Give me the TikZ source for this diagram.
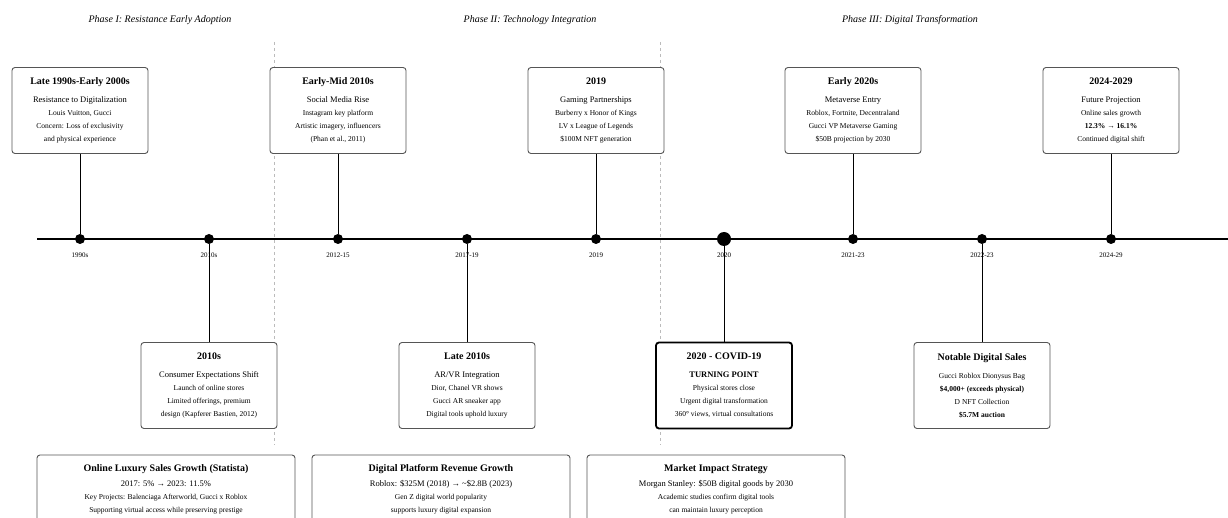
\documentclass[tikz,border=0pt]{standalone}
\usepackage{fontspec}
\setmainfont{Liberation Serif}
\definecolor{boxgray}{HTML}{555555}
\definecolor{divgray}{HTML}{BBBBBB}
\newcommand{\evtitle}[1]{{\fontsize{10}{12}\selectfont\bfseries #1}}
\newcommand{\evsub}[1]{{\fontsize{8.5}{13}\selectfont #1}}
\begin{document}
\begin{tikzpicture}[x=1pt, y=-1pt,
  evbox/.style={draw=boxgray, line width=0.9pt, rounded corners=3pt, fill=white,
                align=center, minimum width=136pt, minimum height=86pt,
                inner sep=2pt, font=\fontsize{7.5}{13}\selectfont},
  keybox/.style={evbox, draw=black, line width=1.8pt},
  sumbox/.style={evbox, minimum width=258pt, minimum height=68pt},
  dot/.style={circle, fill=black, inner sep=0pt, minimum size=10pt},
  bigdot/.style={dot, minimum size=14pt},
  yearlabel/.style={font=\fontsize{7}{8}\selectfont},
  phase/.style={font=\fontsize{10}{12}\selectfont\itshape},
  stem/.style={line width=0.8pt},
  divider/.style={draw=divgray, dashed, line width=0.8pt}]
\useasboundingbox (0,0) rectangle (1228,518);

% phase headings
\node[phase] (p1) at (160,20) {Phase I: Resistance Early Adoption};
\node[phase] (p2) at (530,20) {Phase II: Technology Integration};
\node[phase] (p3) at (910,20) {Phase III: Digital Transformation};

% phase dividers
\coordinate (v1a) at (274,42);
\coordinate (v1b) at (274,445);
\coordinate (v2a) at (660,42);
\coordinate (v2b) at (660,445);
\draw[divider] (v1a) -- (v1b);
\draw[divider] (v2a) -- (v2b);

% main axis
\coordinate (axisL) at (37,239);
\coordinate (axisR) at (1228,239);
\draw[line width=2pt] (axisL) -- (axisR);

\node[dot] (d1) at (80,239) {};
\node[dot] (d2) at (209,239) {};
\node[dot] (d3) at (338,239) {};
\node[dot] (d4) at (467,239) {};
\node[dot] (d5) at (596,239) {};
\node[bigdot] (d6) at (724,239) {};
\node[dot] (d7) at (853,239) {};
\node[dot] (d8) at (982,239) {};
\node[dot] (d9) at (1111,239) {};

\node[yearlabel] (y1) at (80,255) {1990s};
\node[yearlabel] (y2) at (209,255) {2010s};
\node[yearlabel] (y3) at (338,255) {2012-15};
\node[yearlabel] (y4) at (467,255) {2017-19};
\node[yearlabel] (y5) at (596,255) {2019};
\node[yearlabel] (y6) at (724,255) {2020};
\node[yearlabel] (y7) at (853,255) {2021-23};
\node[yearlabel] (y8) at (982,255) {2022-23};
\node[yearlabel] (y9) at (1111,255) {2024-29};

% events above the axis
\node[evbox] (t1) at (80,110.5) {\evtitle{Late 1990s-Early 2000s}\\[5pt]
  \evsub{Resistance to Digitalization}\\ Louis Vuitton, Gucci\\
  Concern: Loss of exclusivity\\ and physical experience};
\node[evbox] (t2) at (338,110.5) {\evtitle{Early-Mid 2010s}\\[5pt]
  \evsub{Social Media Rise}\\ Instagram key platform\\
  Artistic imagery, influencers\\ (Phan et al., 2011)};
\node[evbox] (t3) at (596,110.5) {\evtitle{2019}\\[5pt]
  \evsub{Gaming Partnerships}\\ Burberry x Honor of Kings\\
  LV x League of Legends\\ \$100M NFT generation};
\node[evbox] (t4) at (853,110.5) {\evtitle{Early 2020s}\\[5pt]
  \evsub{Metaverse Entry}\\ Roblox, Fortnite, Decentraland\\
  Gucci VP Metaverse Gaming\\ \$50B projection by 2030};
\node[evbox] (t5) at (1111,110.5) {\evtitle{2024-2029}\\[5pt]
  \evsub{Future Projection}\\ Online sales growth\\
  \textbf{12.3\% → 16.1\%}\\ Continued digital shift};

% events below the axis
\node[evbox] (b1) at (209,385.5) {\evtitle{2010s}\\[5pt]
  \evsub{Consumer Expectations Shift}\\ Launch of online stores\\
  Limited offerings, premium\\ design (Kapferer Bastien, 2012)};
\node[evbox] (b2) at (467,385.5) {\evtitle{Late 2010s}\\[5pt]
  \evsub{AR/VR Integration}\\ Dior, Chanel VR shows\\
  Gucci AR sneaker app\\ Digital tools uphold luxury};
\node[keybox] (b3) at (724,385.5) {\evtitle{2020 - COVID-19}\\[5pt]
  \evsub{\textbf{TURNING POINT}}\\ Physical stores close\\
  Urgent digital transformation\\ 360° views, virtual consultations};
\node[evbox] (b4) at (982,385.5) {\evtitle{Notable Digital Sales}\\[5pt]
  Gucci Roblox Dionysus Bag\\ \textbf{\$4,000+ (exceeds physical)}\\
  D NFT Collection\\ \textbf{\$5.7M auction}};

\draw[stem] (t1) -- (d1);
\draw[stem] (t2) -- (d3);
\draw[stem] (t3) -- (d5);
\draw[stem] (t4) -- (d7);
\draw[stem] (t5) -- (d9);
\draw[stem] (d2) -- (b1);
\draw[stem] (d4) -- (b2);
\draw[stem] (d6) -- (b3);
\draw[stem] (d8) -- (b4);

% summary row
\node[sumbox] (s1) at (166,489) {\evtitle{Online Luxury Sales Growth (Statista)}\\[2pt]
  \evsub{2017: 5\% → 2023: 11.5\%}\\ Key Projects: Balenciaga Afterworld, Gucci x Roblox\\
  Supporting virtual access while preserving prestige};
\node[sumbox] (s2) at (441,489) {\evtitle{Digital Platform Revenue Growth}\\[2pt]
  \evsub{Roblox: \$325M (2018) → \textasciitilde\$2.8B (2023)}\\ Gen Z digital world popularity\\
  supports luxury digital expansion};
\node[sumbox] (s3) at (716,489) {\evtitle{Market Impact Strategy}\\[2pt]
  \evsub{Morgan Stanley: \$50B digital goods by 2030}\\ Academic studies confirm digital tools\\
  can maintain luxury perception};
\end{tikzpicture}
\end{document}
